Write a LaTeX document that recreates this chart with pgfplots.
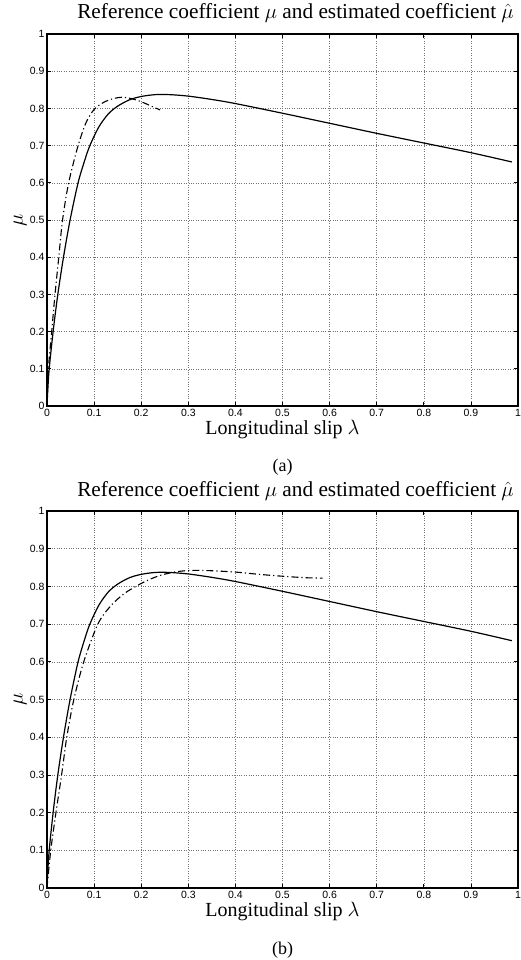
\documentclass[border=0pt]{standalone}
\usepackage{fontspec}
\setmainfont{Liberation Serif}
\newfontfamily\ticksf{Liberation Sans}
\usepackage{pgfplots}
\pgfplotsset{compat=1.18}

\pgfplotsset{
  slipaxis/.style={
    scale only axis,
    width=471pt,
    xmin=0, xmax=1, ymin=0, ymax=1,
    xtick={0,0.1,...,1.01}, ytick={0,0.1,...,1.01},
    grid=major,
    grid style={black!55, dotted, line width=0.6pt},
    tick align=inside,
    major tick length=4pt,
    tick style={black, line width=0.8pt},
    axis line style={black, line width=1.1pt},
    tick label style={font=\ticksf\fontsize{10.5}{10.5}\selectfont},
    /pgf/number format/assume math mode=true,
    xticklabel style={yshift=0pt},
    yticklabel style={xshift=1pt},
    title style={at={(axis description cs:0.5,1)}, anchor=base, yshift=9pt, xshift=13pt,
      font=\fontsize{21.3}{21.3}\selectfont},
    title={Reference coefficient $\mu$ and estimated coefficient $\hat{\mu}$},
    xlabel={Longitudinal slip $\lambda$},
    xlabel style={at={(axis description cs:0.5,0)}, anchor=base, yshift=-28pt,
      font=\fontsize{20}{20}\selectfont},
    ylabel={$\mu$},
    ylabel style={at={(axis description cs:-0.057,0.5)}, anchor=center,
      font=\fontsize{20}{20}\selectfont},
  },
  refcurve/.style={black, line width=1.2pt, smooth},
  estcurve/.style={black, line width=1.1pt, smooth,
    dash pattern=on 7pt off 3pt on 1.2pt off 3pt},
}

\pgfplotstableread{
x y
0 0
0.004 0.09
0.013 0.2
0.023 0.3
0.035 0.4
0.049 0.5
0.066 0.6
0.08 0.66
0.091 0.7
0.11 0.75
0.13 0.785
0.15 0.806
0.175 0.823
0.2 0.832
0.23 0.837
0.26 0.837
0.3 0.833
0.35 0.824
0.4 0.813
0.5 0.787
0.6 0.76
0.7 0.733
0.8 0.707
0.9 0.681
0.987 0.656
}\reftable

\pgfplotstableread{
x y
0 0
0.003 0.1
0.01 0.2
0.017 0.3
0.025 0.4
0.033 0.5
0.046 0.6
0.066 0.7
0.083 0.762
0.1 0.797
0.12 0.816
0.14 0.826
0.16 0.83
0.18 0.826
0.2 0.818
0.22 0.807
0.24 0.796
}\esttableA

\pgfplotstableread{
x y
0 0
0.008 0.1
0.019 0.2
0.031 0.3
0.042 0.4
0.057 0.5
0.078 0.6
0.108 0.7
0.135 0.748
0.163 0.78
0.19 0.801
0.215 0.817
0.24 0.829
0.27 0.838
0.3 0.842
0.34 0.842
0.4 0.838
0.45 0.832
0.5 0.827
0.55 0.823
0.585 0.822
}\esttableB

\begin{document}
\begin{tikzpicture}
\path[use as bounding box] (0pt,0pt) rectangle (521pt,-960pt);

% (a)
\begin{axis}[slipaxis, height=372pt, at={(47pt,-406pt)}, anchor=south west]
  \addplot[refcurve] table {\reftable};
  \addplot[estcurve] table {\esttableA};
\end{axis}
\node[anchor=base, font=\fontsize{18}{18}\selectfont] at (282.5pt,-471pt) {(a)};

% (b)
\begin{axis}[slipaxis, height=377pt, at={(47pt,-888pt)}, anchor=south west]
  \addplot[refcurve] table {\reftable};
  \addplot[estcurve] table {\esttableB};
\end{axis}
\node[anchor=base, font=\fontsize{18}{18}\selectfont] at (282.5pt,-954pt) {(b)};
\end{tikzpicture}
\end{document}
